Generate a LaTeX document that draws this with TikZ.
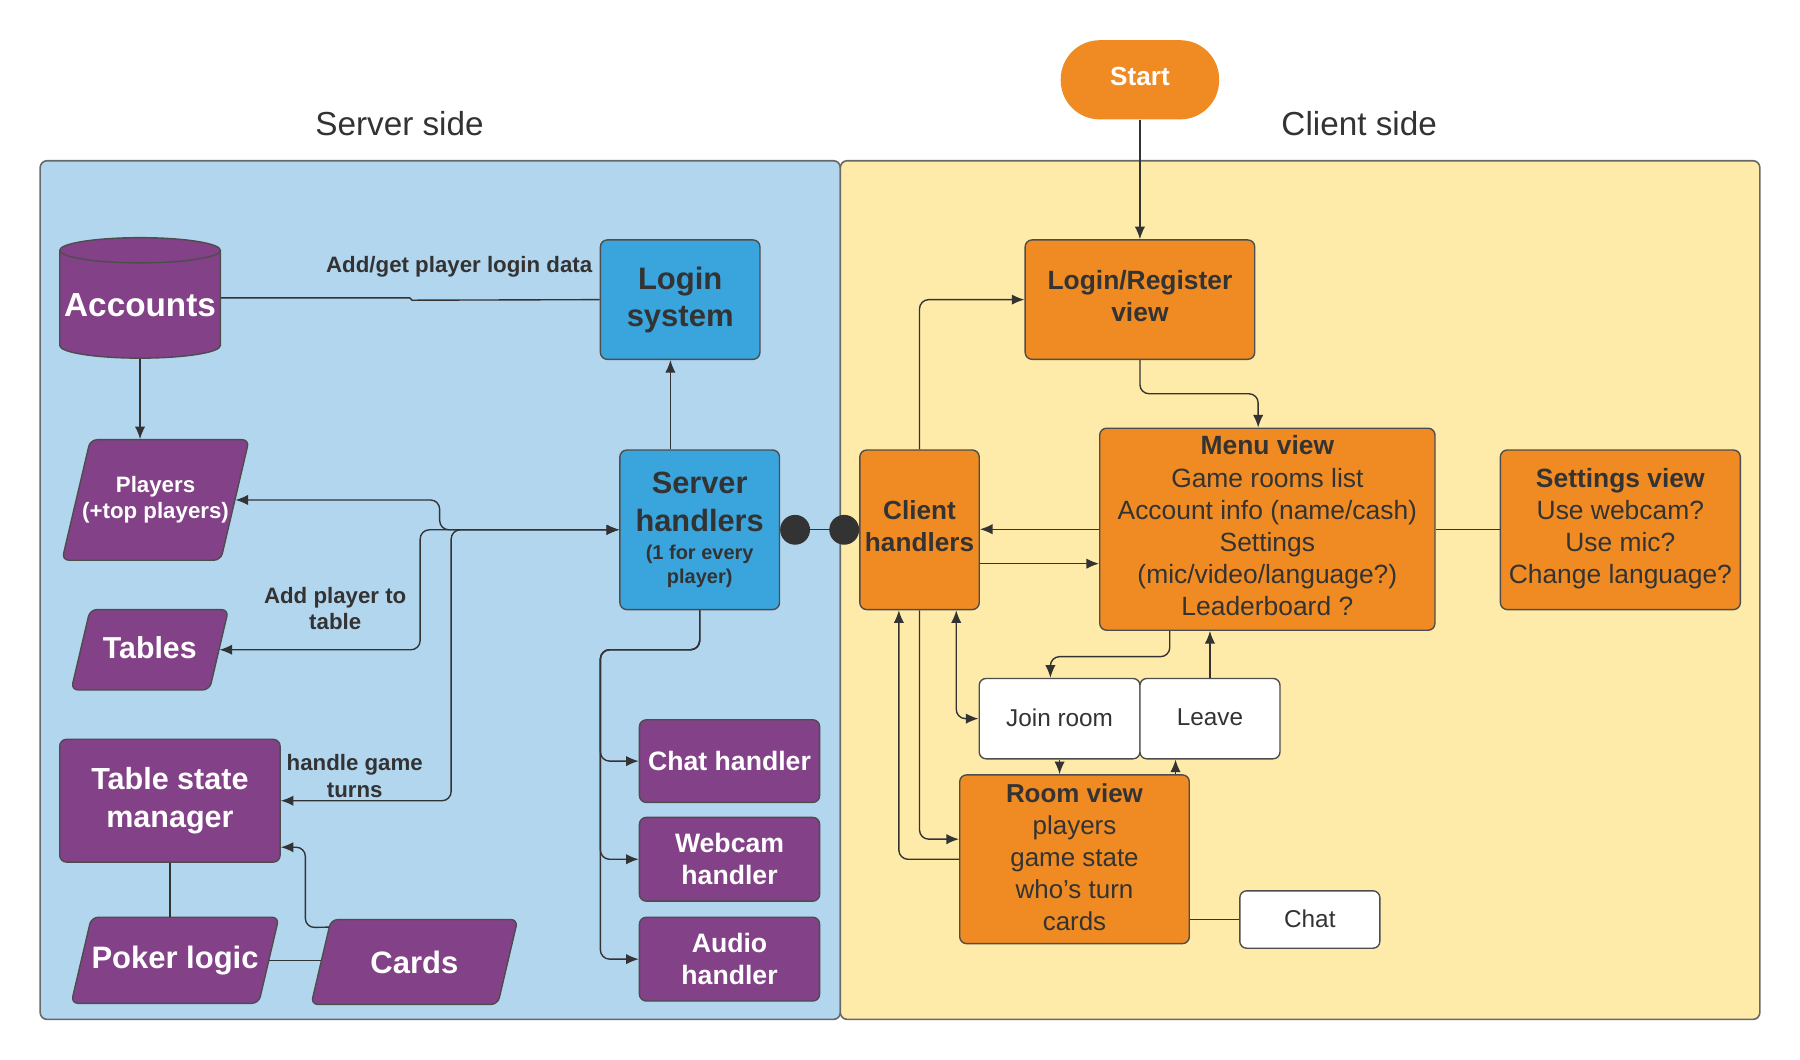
\documentclass[tikz,border=0pt]{standalone}
\usepackage{fontspec}
\setmainfont{Liberation Sans}
\usetikzlibrary{arrows.meta,calc}
\definecolor{srvbg}{HTML}{B3D6EF}
\definecolor{clibg}{HTML}{FFEBA9}
\definecolor{purp}{HTML}{834187}
\definecolor{blu}{HTML}{3AA4DD}
\definecolor{orng}{HTML}{EF8B22}
\definecolor{dark}{HTML}{333333}
\definecolor{edge}{HTML}{4D4D4D}
\newcommand{\mypara}[7]{%
  \path[draw=edge, fill=purp, line width=0.6pt, rounded corners=3pt]
    ({#2+0.235*(#5-#3)},#3) -- (#4,#3) -- ({#4-0.235*(#5-#3)},#5) -- (#2,#5) -- cycle;
  \node[bx={#2}{#3}{#4}{#5}, inner sep=0pt, text=white, align=center, font=#6] (#1) {#7};
}
\begin{document}
\begin{tikzpicture}[x=0.5pt,y=-0.5pt,
  bx/.style n args={4}{at={({(#1+#3)/2},{(#2+#4)/2})}, minimum width={(#3-#1)*0.5pt}, minimum height={(#4-#2)*0.5pt}},
  box/.style={draw=edge, line width=0.6pt, rounded corners=3pt, inner sep=0pt, align=center, text=dark},
  purpbox/.style={box, fill=purp, text=white},
  blubox/.style={box, fill=blu},
  orbox/.style={box, fill=orng},
  whbox/.style={box, fill=white, font=\fontsize{10.6}{13}\selectfont},
  panel/.style={draw=edge!85, line width=0.7pt, rounded corners=3pt, inner sep=0pt},
  lbl/.style={text=dark, align=center, inner sep=0pt, font=\bfseries\fontsize{9.7}{11.5}\selectfont},
  conn/.style={draw=dark, line width=0.6pt, rounded corners=4pt},
  arr/.style={conn, -{Latex[length=5.5pt,width=4.5pt]}},
  darr/.style={conn, {Latex[length=5.5pt,width=4.5pt]}-{Latex[length=5.5pt,width=4.5pt]}},
  dots/.style={conn, fill=dark, {Circle[length=13pt]}-{Circle[length=13pt]}}
]
\useasboundingbox (0,0) rectangle (1568,923);
% panels
\node[panel, fill=srvbg, bx={35}{140}{732}{888}] (srv) {};
\node[panel, fill=clibg, bx={732}{140}{1533}{888}] (cli) {};
\node[text=dark, font=\fontsize{14.5}{17}\selectfont] (srvt) at (348,108) {Server side};
\node[text=dark, font=\fontsize{14.5}{17}\selectfont] (clit) at (1184,108) {Client side};

% Accounts cylinder
\path[draw=edge, fill=purp, line width=0.6pt] (52,218) -- (52,301)
  arc[start angle=180, end angle=360, x radius=35pt, y radius=5.5pt] -- (192,218)
  arc[start angle=0, end angle=180, x radius=35pt, y radius=5.5pt] -- cycle;
\draw[edge, line width=0.6pt] (52,218) arc[start angle=180, end angle=360, x radius=35pt, y radius=5.5pt];
\node[bx={52}{219}{192}{312}, inner sep=0pt, text=white, font=\bfseries\fontsize{14.5}{17}\selectfont] (acc) {Accounts};

% server side nodes
\node[blubox, bx={523}{209}{662}{313}, font=\bfseries\fontsize{13.5}{16}\selectfont] (login) {Login\\system};
\node[lbl] (lbl1) at (400,232) {Add/get player login data};
\mypara{players}{54}{383}{217}{488}{\bfseries\fontsize{9.7}{11.5}\selectfont}{Players\\(+top players)}
\mypara{tables}{62}{531}{199}{601}{\bfseries\fontsize{13.2}{16}\selectfont}{\raisebox{2pt}{Tables}}
\node[purpbox, bx={52}{644}{244}{751}, font=\bfseries\fontsize{13.3}{16.5}\selectfont] (tsm) {Table state\\manager};
\mypara{poker}{62}{799}{243}{874}{\bfseries\fontsize{13.5}{16}\selectfont}{Poker logic}
\mypara{cards}{271}{801}{451}{875}{\bfseries\fontsize{13.5}{16}\selectfont}{Cards}
\node[blubox, bx={540}{392}{679}{531}, font=\bfseries\fontsize{13.4}{16.5}\selectfont] (sh) {Server\\handlers\\[-4pt]\fontsize{8.7}{10.5}\selectfont(1 for every\\[-6pt]\fontsize{8.7}{10.5}\selectfont player)};
\node[lbl] (lbl2) at (292,530) {Add player to\\table};
\node[lbl] (lbl3) at (309,676) {handle game\\turns};
\node[purpbox, bx={557}{627}{714}{699}, font=\bfseries\fontsize{11.6}{14}\selectfont] (chath) {Chat handler};
\node[purpbox, bx={557}{712}{714}{785}, font=\bfseries\fontsize{11.6}{14}\selectfont] (webh) {Webcam\\handler};
\node[purpbox, bx={557}{799}{714}{872}, font=\bfseries\fontsize{11.6}{14}\selectfont] (audh) {Audio\\handler};

% client side nodes
\node[orbox, bx={749}{392}{853}{531}, text depth=3pt, font=\bfseries\fontsize{11.4}{14}\selectfont] (ch) {Client\\handlers};
\node[fill=orng, rounded corners=17pt, inner sep=0pt, text=white, text depth=3pt, bx={924}{35}{1062}{104}, font=\bfseries\fontsize{11.4}{14}\selectfont] (start) {Start};
\node[orbox, bx={893}{209}{1093}{313}, text depth=3pt, font=\bfseries\fontsize{11.5}{14}\selectfont] (lr) {Login/Register\\view};
\node[orbox, bx={958}{373}{1250}{549}, text depth=3pt, font=\fontsize{11.5}{14}\selectfont] (menu) {\textbf{Menu view}\\Game rooms list\\Account info (name/cash)\\Settings\\(mic/video/language?)\\Leaderboard ?};
\node[orbox, bx={1307}{392}{1516}{531}, text depth=3.6pt, font=\fontsize{11.5}{14}\selectfont] (settings) {\textbf{Settings view}\\Use webcam?\\Use mic?\\Change language?};
\node[whbox, bx={853}{591}{993}{661}, text depth=1pt] (join) {Join room};
\node[whbox, bx={993}{591}{1115}{661}, text depth=1pt] (leave) {Leave};
\node[orbox, bx={836}{675}{1036}{822}, text depth=2pt, font=\fontsize{11.3}{14}\selectfont] (room) {\textbf{Room view}\\players\\game state\\who\char39\relax s turn\\cards};
\node[whbox, bx={1080}{776}{1202}{826}, text depth=1pt] (chat) {Chat};

% server connectors
\draw[conn, sharp corners] (acc.east |- 0,259.5) -- (357,259.5) -- (359,261.5) -- (login.west);
\draw[arr] (acc.south) -- (acc.south |- players.north);
\draw[arr] (sh.north -| 584,0) -- (login.south -| 584,0);
\draw[darr] (sh.west) -- (383,461.5) -- (383,435.5) -- ($(players.east)+(-12.3,0)$);
\draw[darr] (sh.west) -- (366,461.5) -- (366,566) -- ($(tables.east)+(-8.2,0)$);
\draw[darr] (sh.west) -- (393,461.5) -- (393,697.5) -- (tsm.east);
\draw[arr] ($(cards.north west)+(16,7)$) -- (266,808) -- (266,738) -- (tsm.east |- 0,738);
\draw[conn] (tsm.south) -- (tsm.south |- poker.north);
\draw[conn] ($(poker.east)+(-8.8,0)$) -- ($(poker.east -| cards.west)+(8.7,0)$);
\draw[arr] (sh.south) -- (sh.south |- 0,566) -- (523,566) -- (523,663) -- (chath.west);
\draw[arr] (sh.south) -- (sh.south |- 0,566) -- (523,566) -- (523,748.5) -- (webh.west);
\draw[arr] (sh.south) -- (sh.south |- 0,566) -- (523,566) -- (523,835.5) -- (audh.west);
\draw[dots] (sh.east) -- (ch.west);

% client connectors
\draw[arr] (start.south) -- (lr.north);
\draw[arr] (lr.south) -- (lr.south |- 0,343) -- (1096,343) -- (menu.north -| 1096,0);
\draw[arr] (ch.north) |- (lr.west);
\draw[arr] (menu.west) -- (menu.west -| ch.east);
\draw[arr] (ch.east |- 0,491) -- (menu.west |- 0,491);
\draw[conn] (menu.east) -- (menu.east -| settings.west);
\draw[arr] (menu.south -| 1019,0) -- (1019,572) -- (915,572) -- (join.north -| 915,0);
\draw[arr] (leave.north) -- (leave.north |- menu.south);
\draw[darr] (ch.south -| 833,0) -- (833,626) -- (join.west);
\draw[arr] (join.south) -- (join.south |- room.north);
\draw[arr] (room.north -| 1024,0) -- (leave.south -| 1024,0);
\draw[arr] (ch.south) -- (801,731) -- (room.west |- 0,731);
\draw[arr] (room.west) -- (783,748.5) -- (ch.south -| 783,0);
\draw[conn] (chat.west) -- (chat.west -| room.east);
\end{tikzpicture}
\end{document}
